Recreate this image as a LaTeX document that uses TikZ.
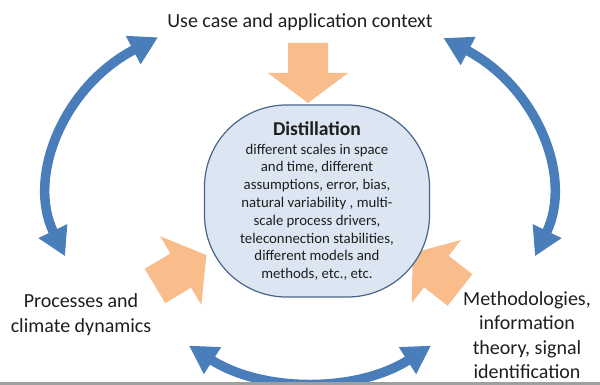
\documentclass[tikz,border=0pt]{standalone}
\usepackage{fontspec}
\setmainfont{Carlito}
\usetikzlibrary{arrows.meta,calc}

\definecolor{arcblue}{RGB}{74,126,187}
\definecolor{blockorange}{RGB}{249,189,140}
\definecolor{distfill}{RGB}{220,230,242}
\definecolor{distline}{RGB}{72,100,140}
\definecolor{labeltext}{RGB}{30,30,30}

\tikzset{
  bigtip/.tip={Triangle[length=28pt,width=30pt]},
  cyclearc/.style={draw=arcblue, line width=9.5pt, arrows=bigtip-bigtip},
  orangeblock/.style={fill=blockorange},
  cornerlabel/.style={text=labeltext, align=center, inner sep=0pt},
  distbox/.style={draw=distline, line width=1.2pt, fill=distfill, rounded corners=82pt,
    minimum width=225pt, minimum height=192pt, align=center, inner sep=0pt, text=labeltext}
}

\begin{document}
\begin{tikzpicture}[x=1pt,y=1pt]
    \useasboundingbox (0,0) rectangle (600,385);

    % the three corners of the cycle
    \node[cornerlabel, font=\fontsize{20}{24}\selectfont] (usecase) at (300,363) {Use case and application context};
    \node[cornerlabel, font=\fontsize{20}{25}\selectfont] (proc) at (81,70.5) {Processes and\\climate dynamics};
    \node[cornerlabel, font=\fontsize{20}{24.5}\selectfont] (meth) at (527,50) {Methodologies,\\information\\theory, signal\\identification};

    % blue double arrows round the ring
    \coordinate (ring) at (300,193);
    \coordinate (lowring) at (310,228.7);
    \draw[cyclearc] ($(ring)+(124.6:250pt and 188pt)$) arc[start angle=124.6, end angle=200, x radius=250pt, y radius=188pt];
    \draw[cyclearc] ($(ring)+(55:250pt and 188pt)$) arc[start angle=55, end angle=-20, x radius=250pt, y radius=188pt];
    \draw[cyclearc] ($(lowring)+(237.4:224.7pt)$) arc[start angle=237.4, end angle=302.6, radius=224.7pt];

    % orange block arrows into the middle
    \foreach \tx/\ty/\rot in {308/342/-90, 155/99/31, 460/95/142}
      \fill[orangeblock, shift={(\tx,\ty)}, rotate=\rot]
        (0,-20) -- (30,-20) -- (30,-40) -- (60,0) -- (30,40) -- (30,20) -- (0,20) -- cycle;

    \node[distbox, font=\fontsize{14.8}{17.8}\selectfont] (dist) at (317,184)
      {{\fontsize{19.6}{22}\selectfont\bfseries Distillation}\\[1pt]
       different scales in space\\
       and time, different\\
       assumptions, error, bias,\\
       natural variability , multi-\\
       scale process drivers,\\
       teleconnection stabilities,\\
       different models and\\
       methods, etc., etc.};

    \fill[gray!75] (0,0) rectangle (600,2.5);
\end{tikzpicture}
\end{document}
